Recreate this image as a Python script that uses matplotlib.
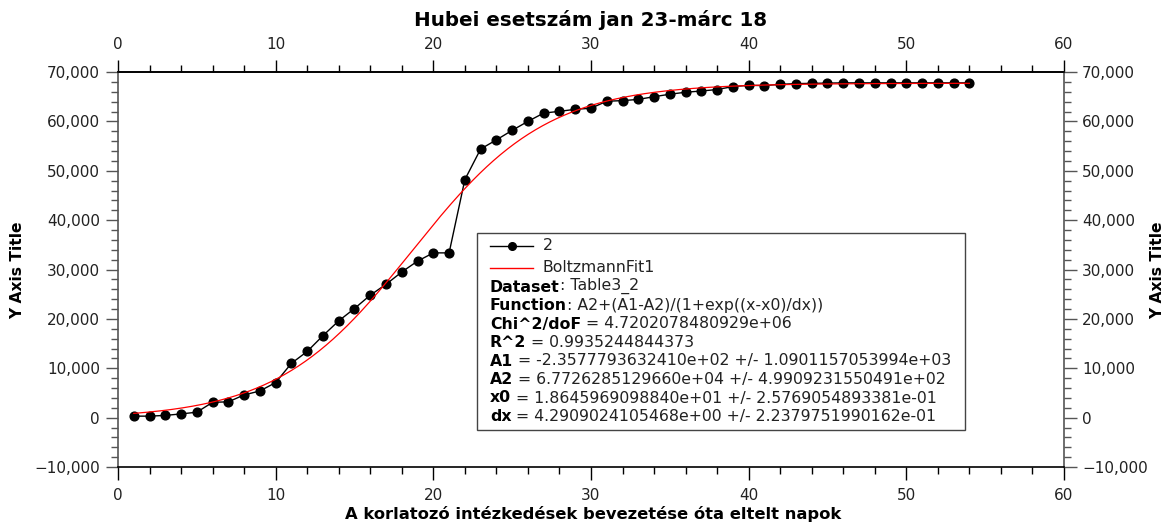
import numpy as np
import matplotlib
matplotlib.use("Agg")
import matplotlib.pyplot as plt
from matplotlib.ticker import MultipleLocator, FixedLocator, FuncFormatter
from matplotlib.lines import Line2D
from matplotlib.text import Annotation

# ---- data ----
days = list(range(1, 55))
cases = [300, 300, 450, 750, 1100, 3100, 3200, 4600, 5400, 7100,
         11000, 13400, 16600, 19600, 22100, 24800, 27000, 29500, 31700, 33366,
         33366, 48206, 54406, 56249, 58182, 60000, 61682, 62031, 62442, 62662,
         64084, 64200, 64450, 65000, 65500, 65900, 66150, 66450, 67050, 67300,
         67250, 67500, 67650, 67700, 67750, 67800, 67800, 67800, 67800, 67800,
         67800, 67800, 67800, 67800]

x_major = [0, 10, 20, 30, 40, 50, 60]
x_minor = list(range(0, 61, 2))

# Boltzmann fit parameters (as printed in the chart)
A1 = -2.3577793632410e+02
A2 = 6.7726285129660e+04
X0 = 1.8645969098840e+01
DX = 4.2909024105468e+00

title = "Hubei esetszám jan 23-márc 18"
xlabel = "A korlatozó intézkedések bevezetése óta eltelt napok"
ylabel = "Y Axis Title"
legend_rows = [
    ("Dataset", ": Table3_2"),
    ("Function", ": A2+(A1-A2)/(1+exp((x-x0)/dx))"),
    ("Chi^2/doF", " = 4.7202078480929e+06"),
    ("R^2", " = 0.9935244844373"),
    ("A1", " = -2.3577793632410e+02 +/- 1.0901157053994e+03"),
    ("A2", " = 6.7726285129660e+04 +/- 4.9909231550491e+02"),
    ("x0", " = 1.8645969098840e+01 +/- 2.5769054893381e-01"),
    ("dx", " = 4.2909024105468e+00 +/- 2.2379751990162e-01"),
]

W, H = 1169, 522
fig = plt.figure(figsize=(W / 100, H / 100), dpi=100)

def fx(px):
    return px / W

def fy(py):
    return 1 - py / H

L, R, T, B = 118, 1064, 72, 467
ax = fig.add_axes([fx(L), fy(B), fx(R) - fx(L), fy(T) - fy(B)])

ax.plot(days, cases, color="black", lw=1.0, marker="o", ms=6.3, zorder=3)
xf = np.linspace(days[0], days[-1], 600)
yf = A2 + (A1 - A2) / (1 + np.exp((xf - X0) / DX))
ax.plot(xf, yf, color="red", lw=0.9, zorder=4)

ax.set_xlim(0, 60)
ax.set_ylim(-10000, 70000)

ax.xaxis.set_major_locator(FixedLocator(x_major))
ax.xaxis.set_minor_locator(FixedLocator(x_minor))
ax.yaxis.set_major_locator(MultipleLocator(10000))
ax.yaxis.set_minor_locator(MultipleLocator(2000))

def fmt(v, pos):
    s = f"{abs(v):,.0f}"
    return ("\u2212" + s) if v < 0 else s

ax.yaxis.set_major_formatter(FuncFormatter(fmt))

tick_col = "#222222"
spine_gray = "#555555"
ax.tick_params(axis="both", which="both", direction="out", right=True,
               labelright=True, labelsize=11, labelcolor=tick_col)
ax.tick_params(axis="both", which="major", length=9, width=1.0)
ax.tick_params(axis="both", which="minor", length=5, width=1.0)
ax.tick_params(axis="x", which="both", color="black")
ax.tick_params(axis="y", which="both", color=spine_gray)
ax.tick_params(axis="x", which="major", pad=6)
ax.tick_params(axis="y", which="major", pad=4)

# top axis with its own label spacing
top = ax.secondary_xaxis("top")
top.xaxis.set_major_locator(FixedLocator(x_major))
top.xaxis.set_minor_locator(FixedLocator(x_minor))
top.tick_params(axis="x", which="both", direction="out", color="black",
                labelsize=11, labelcolor=tick_col)
top.tick_params(axis="x", which="major", length=9, width=1.0, pad=5.5)
top.tick_params(axis="x", which="minor", length=5, width=1.0)
top.spines["top"].set_color("black")
top.spines["top"].set_linewidth(1.2)

for side in ("top", "bottom"):
    ax.spines[side].set_color("black")
    ax.spines[side].set_linewidth(1.2)
for side in ("left", "right"):
    ax.spines[side].set_color(spine_gray)
    ax.spines[side].set_linewidth(1.2)

fig.text(fx(591), fy(20), title, ha="center", va="center", fontsize=14.3,
         fontweight="bold", color="black")
fig.text(fx(593), fy(514), xlabel, ha="center", va="center", fontsize=11.8,
         fontweight="bold", color="black")
fig.text(fx(18), fy(270), ylabel, ha="center", va="center", rotation=90,
         fontsize=11.2, fontweight="bold", color="black")
fig.text(fx(1158), fy(270), ylabel, ha="center", va="center", rotation=90,
         fontsize=11.2, fontweight="bold", color="black")

# ---- legend box ----
bx0, by0, bx1, by1 = 477, 233, 965, 430
box = plt.Rectangle((fx(bx0), fy(by1)), fx(bx1) - fx(bx0), fy(by0) - fy(by1),
                    transform=fig.transFigure, facecolor="white",
                    edgecolor="#444444", lw=1.0, zorder=10)
fig.add_artist(box)

lfs = 11.3
hx0, hx1 = 490, 533
row1, row2 = 246, 268
fig.add_artist(Line2D([fx(hx0), fx(hx1)], [fy(row1), fy(row1)], color="black",
                      lw=1.0, transform=fig.transFigure, zorder=11))
fig.add_artist(Line2D([fx((hx0 + hx1) / 2)], [fy(row1)], color="black",
                      marker="o", ms=5.5, transform=fig.transFigure, zorder=12))
fig.add_artist(Line2D([fx(hx0), fx(hx1)], [fy(row2), fy(row2)], color="red",
                      lw=1.0, transform=fig.transFigure, zorder=11))
fig.text(fx(543), fy(row1), "2", ha="left", va="center", fontsize=lfs,
         color=tick_col, zorder=12)
fig.text(fx(543), fy(row2), "BoltzmannFit1", ha="left", va="center",
         fontsize=lfs, color=tick_col, zorder=12)

y0 = 287
dy = 18.5
for i, (bold, rest) in enumerate(legend_rows):
    yy = y0 + i * dy
    t1 = fig.text(fx(hx0), fy(yy), bold, ha="left", va="center", fontsize=lfs,
                  fontweight="bold", color="black", zorder=12)
    an = Annotation(rest, xy=(1, 0), xycoords=t1, ha="left", va="bottom",
                    fontsize=lfs, color=tick_col, annotation_clip=False)
    an.set_zorder(12)
    fig.add_artist(an)

fig.savefig("out.png", dpi=100)
